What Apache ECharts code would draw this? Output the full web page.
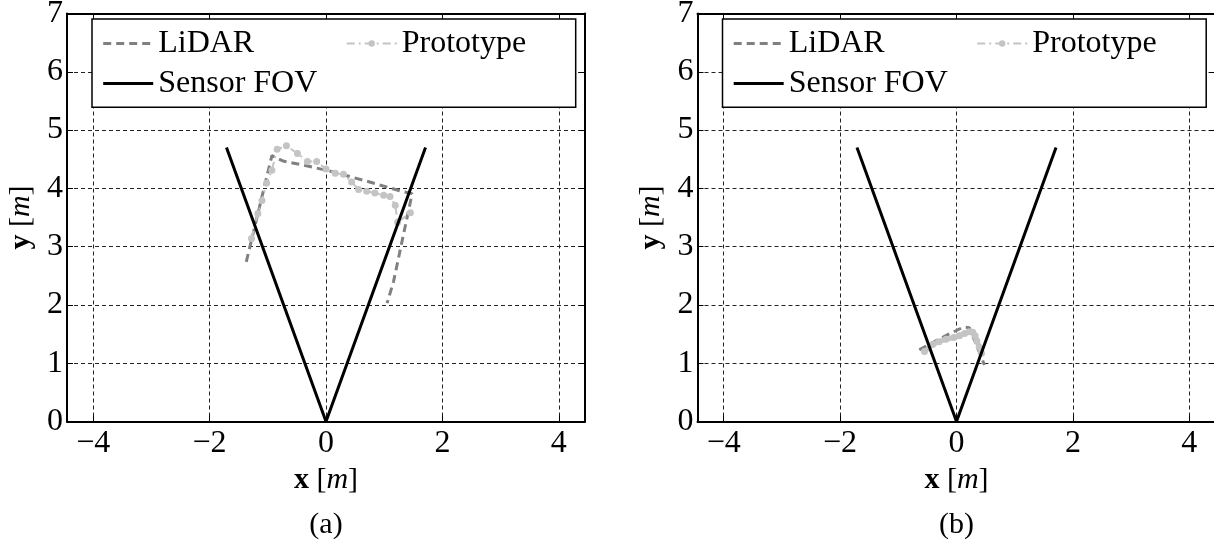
<!DOCTYPE html>
<html>
<head>
<meta charset="utf-8">
<script src="https://cdn.jsdelivr.net/npm/echarts@6/dist/echarts.min.js"></script>
<style>
  html, body { margin: 0; padding: 0; background: #fff; }
  #chart { width: 1214px; height: 546px; }
</style>
</head>
<body>
<div id="chart"></div>
<script>
// Sensor field of view: two 5 m rays at +/-20 degrees from the origin
const fovX = [-1.71, 0, 1.71];
const fovY = [4.70, 0, 4.70];

// (a) scan of a box-shaped object
const lidarA = [
  [-1.37, 2.74], [-0.93, 4.56], [-0.74, 4.47], [-0.39, 4.40], [0.01, 4.31],
  [0.64, 4.14], [1.33, 3.94], [1.48, 3.91], [1.16, 2.40], [1.05, 2.03]
];
const protoA = [
  [-1.28, 3.14], [-1.17, 3.57], [-1.10, 3.79], [-1.02, 4.09], [-0.93, 4.31],
  [-0.84, 4.67], [-0.68, 4.73], [-0.49, 4.60], [-0.32, 4.46], [-0.16, 4.46],
  [0.00, 4.33], [0.16, 4.26], [0.30, 4.24], [0.44, 4.11], [0.56, 3.98],
  [0.70, 3.95], [0.84, 3.92], [0.99, 3.88], [1.10, 3.86], [1.19, 3.71],
  [1.23, 3.42], [1.45, 3.58]
];

// (b) scan of a close object
const lidarB = [
  [-0.64, 1.23], [-0.40, 1.36], [-0.15, 1.49], [0.12, 1.62], [0.22, 1.61],
  [0.34, 1.32], [0.48, 0.97]
];
const protoB = [
  [-0.55, 1.20], [-0.41, 1.32], [-0.30, 1.37], [-0.18, 1.41], [-0.05, 1.44],
  [0.05, 1.47], [0.14, 1.51], [0.22, 1.54], [0.28, 1.53], [0.32, 1.47],
  [0.35, 1.38], [0.39, 1.28], [0.43, 1.17]
];

const xTickValues = [-4, -2, 0, 2, 4];
const yTickValues = [0, 1, 2, 3, 4, 5, 6, 7];
const seriesNames = ['LiDAR', 'Prototype', 'Sensor FOV'];
const captions = ['(a)', '(b)'];

const SERIF = '"Liberation Serif", "Times New Roman", serif';
const X_HALF = 4.45;

const fovPts = fovX.map((x, i) => [x, fovY[i]]);

function tickText(list) {
  return function (v) {
    const r = Math.round(v);
    if (Math.abs(v - r) > 1e-6 || list.indexOf(r) < 0) return '';
    return String(r).replace('-', '\u2212');
  };
}

const gridLine = { show: true, lineStyle: { color: '#222', width: 1, type: [4, 3] } };
const axisLineStyle = { onZero: false, lineStyle: { color: '#000', width: 2 } };
const tickIn = { show: true, inside: true, length: 6, lineStyle: { color: '#000', width: 1 } };

const panels = [
  { left: 67, lidar: lidarA, proto: protoA, protoWidth: 2, protoType: [8, 4, 2, 4], caption: captions[0] },
  { left: 697.5, lidar: lidarB, proto: protoB, protoWidth: 5, protoType: 'solid', caption: captions[1] }
];
const PW = 518, PT = 13.5, PH = 408;

const grid = [], xAxis = [], yAxis = [], series = [], legend = [], graphic = [];

panels.forEach((p, k) => {
  grid.push({ left: p.left, top: PT, width: PW, height: PH, containLabel: false, outerBoundsMode: 'none' });
  // bottom and top x axes
  xAxis.push({
    type: 'value', gridIndex: k, position: 'bottom', min: -X_HALF, max: X_HALF,
    minInterval: 2, maxInterval: 2,
    axisLine: axisLineStyle, axisTick: tickIn, splitLine: gridLine,
    axisLabel: {
      formatter: tickText(xTickValues), showMinLabel: false, showMaxLabel: false,
      fontFamily: SERIF, fontSize: 32, color: '#000', margin: 6
    },
    name: '{b|x} [{i|m}]', nameLocation: 'middle', nameGap: 44,
    nameTextStyle: {
      fontFamily: SERIF, fontSize: 30, color: '#000',
      rich: {
        b: { fontFamily: SERIF, fontSize: 30, fontWeight: 'bold', color: '#000' },
        i: { fontFamily: SERIF, fontSize: 30, fontStyle: 'italic', color: '#000' }
      }
    }
  });
  xAxis.push({
    type: 'value', gridIndex: k, position: 'top', min: -X_HALF, max: X_HALF,
    minInterval: 2, maxInterval: 2,
    axisLine: axisLineStyle, axisTick: tickIn, splitLine: { show: false },
    axisLabel: { show: false }
  });
  // left and right y axes
  yAxis.push({
    type: 'value', gridIndex: k, position: 'left', min: 0, max: 7, interval: 1,
    axisLine: axisLineStyle, axisTick: tickIn, splitLine: gridLine,
    axisLabel: {
      formatter: tickText(yTickValues), fontFamily: SERIF, fontSize: 32, color: '#000', margin: 4
    },
    name: '{b|y} [{i|m}]', nameLocation: 'middle', nameGap: 31, nameRotate: 90,
    nameTextStyle: {
      fontFamily: SERIF, fontSize: 30, color: '#000',
      rich: {
        b: { fontFamily: SERIF, fontSize: 30, fontWeight: 'bold', color: '#000' },
        i: { fontFamily: SERIF, fontSize: 30, fontStyle: 'italic', color: '#000' }
      }
    }
  });
  yAxis.push({
    type: 'value', gridIndex: k, position: 'right', min: 0, max: 7, interval: 1,
    axisLine: axisLineStyle, axisTick: tickIn, splitLine: { show: false },
    axisLabel: { show: false }
  });

  const xi = k * 2, yi = k * 2;
  series.push({
    name: seriesNames[0], type: 'line', xAxisIndex: xi, yAxisIndex: yi,
    data: p.lidar, symbol: 'none', showSymbol: false, z: 3,
    lineStyle: { color: '#808080', width: 3, type: [8, 5] }, itemStyle: { color: '#808080' }
  });
  series.push({
    name: seriesNames[1], type: 'line', xAxisIndex: xi, yAxisIndex: yi,
    data: p.proto, symbol: 'circle', symbolSize: 7, showSymbol: true, z: 4,
    lineStyle: { color: '#c4c4c4', width: p.protoWidth, type: p.protoType },
    itemStyle: { color: '#c4c4c4', borderWidth: 0 }
  });
  series.push({
    name: seriesNames[2], type: 'line', xAxisIndex: xi, yAxisIndex: yi,
    data: fovPts, symbol: 'none', showSymbol: false, z: 5,
    lineStyle: { color: '#000', width: 3, type: 'solid' }, itemStyle: { color: '#000' }
  });

  const ox = p.left - 67;
  const legendBase = {
    orient: 'horizontal', padding: 0, itemWidth: 50, itemHeight: 8, selectedMode: false, z: 10,
    textStyle: { fontFamily: SERIF, fontSize: 32, color: '#000', lineHeight: 34 }
  };
  // line-only samples carry no marker
  const noMarker = { itemStyle: { opacity: 0, color: 'rgba(0,0,0,0)', borderWidth: 0 } };
  legend.push(Object.assign({}, legendBase, noMarker, {
    data: [seriesNames[0]], left: 101.7 + ox, top: 26.5,
    lineStyle: { color: '#808080', width: 3, type: [8, 5] }
  }));
  legend.push(Object.assign({}, legendBase, {
    data: [seriesNames[1]], left: 345.7 + ox, top: 26.5,
    lineStyle: { color: '#c4c4c4', width: 2, type: [8, 4, 2, 4] }
  }));
  legend.push(Object.assign({}, legendBase, noMarker, {
    data: [seriesNames[2]], left: 101.7 + ox, top: 66.5,
    lineStyle: { color: '#000', width: 3, type: 'solid' }
  }));

  // legend frame, drawn over the grid lines
  graphic.push({
    type: 'rect', z: 8, silent: true,
    shape: { x: 92 + ox, y: 19, width: 483.7, height: 88.3 },
    style: { fill: '#fff', stroke: '#000', lineWidth: 1.5 }
  });
  graphic.push({
    type: 'text', z: 8, silent: true, x: 326 + ox, y: 525,
    style: { text: p.caption, font: '30px ' + SERIF, fill: '#000', textAlign: 'center', textVerticalAlign: 'middle' }
  });
});

const chart = echarts.init(document.getElementById('chart'), null, { renderer: 'canvas' });
chart.setOption({
  animation: false,
  backgroundColor: '#fff',
  grid: grid, xAxis: xAxis, yAxis: yAxis, series: series, legend: legend, graphic: graphic
});
</script>
</body>
</html>
